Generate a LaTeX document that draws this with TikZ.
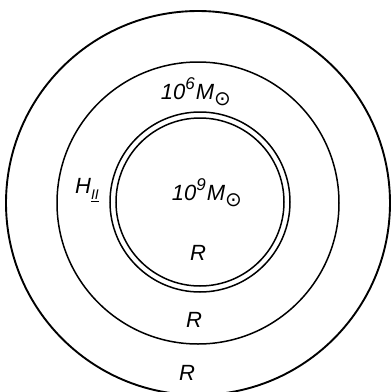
\documentclass[tikz,border=0pt]{standalone}
\usepackage{fontspec}
\setmainfont{Liberation Sans}
\newfontfamily\symfont{DejaVu Sans}
\newcommand{\sunsym}{\raisebox{-0.3em}{\symfont\upshape\fontsize{20}{22}\selectfont ⊙}}
\begin{document}
\begin{tikzpicture}[x=1pt,y=-1pt,
  ring/.style={draw=black,line width=1.5pt},
  lbl/.style={font=\fontsize{22}{26}\selectfont\itshape,inner sep=0pt}]
\useasboundingbox (0,0) rectangle (392,392);
\coordinate (c) at (198,203);
\draw[ring,line width=1.9pt] (c) circle [radius=192];
\draw[ring] (c) circle [radius=141];
\draw[ring] (200,202) circle [radius=90];
\draw[ring] (200,202) circle [radius=84];
\node[lbl] (m6) at (196,92) {10\raisebox{0.42em}{\fontsize{17}{19}\selectfont 6}\kern1pt M\sunsym};
\node[lbl] (m9) at (207,193) {10\raisebox{0.42em}{\fontsize{17}{19}\selectfont 9}\kern1pt M\sunsym};
\node[lbl] (h2) at (87,190) {H\raisebox{-0.3em}{\fontsize{14}{16}\selectfont\underline{II}}};
\node[lbl] (r1) at (198,253) {R};
\node[lbl] (r2) at (194,320) {R};
\node[lbl] (r3) at (187,373) {R};
\end{tikzpicture}
\end{document}
